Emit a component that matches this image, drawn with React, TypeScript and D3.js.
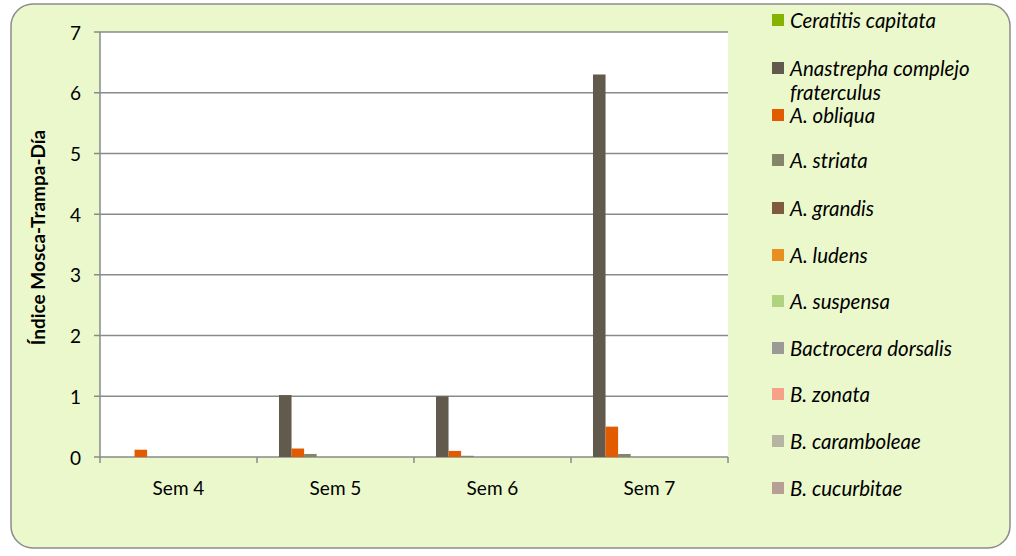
import React from "react";
import * as d3 from "d3";

const categories = ["Sem 4", "Sem 5", "Sem 6", "Sem 7"];
const seriesNames = [
  "Ceratitis capitata",
  "Anastrepha complejo fraterculus",
  "A. obliqua",
  "A. striata",
  "A. grandis",
  "A. ludens",
  "A. suspensa",
  "Bactrocera dorsalis",
  "B. zonata",
  "B. caramboleae",
  "B. cucurbitae",
];
const seriesColors = [
  "#86b200",
  "#635a4e",
  "#e35b00",
  "#85856a",
  "#7f5a3c",
  "#e8901f",
  "#b1d37f",
  "#9c9a97",
  "#f8a18a",
  "#b5b5a2",
  "#b89f96",
];
// values per series, one per week
const ceratitis = [0, 0, 0, 0];
const fraterculus = [0, 1.02, 1.0, 6.3];
const obliqua = [0.12, 0.14, 0.1, 0.5];
const striata = [0, 0.05, 0.02, 0.05];
const grandis = [0, 0, 0, 0];
const ludens = [0, 0, 0, 0];
const suspensa = [0, 0, 0, 0];
const dorsalis = [0, 0, 0, 0];
const zonata = [0, 0, 0, 0];
const caramboleae = [0, 0, 0, 0];
const cucurbitae = [0, 0, 0, 0];
const seriesValues = [
  ceratitis, fraterculus, obliqua, striata, grandis, ludens,
  suspensa, dorsalis, zonata, caramboleae, cucurbitae,
];
const yTicks = [0, 1, 2, 3, 4, 5, 6, 7];

const App = () => {
  const W = 1016;
  const H = 556;
  const plot = { left: 100, right: 728, top: 32, bottom: 457 };
  const font = "Lato, 'Open Sans', sans-serif";

  const x = d3
    .scaleBand<string>()
    .domain(categories)
    .range([plot.left, plot.right])
    .padding(0);
  const xInner = d3
    .scaleBand<number>()
    .domain(d3.range(seriesNames.length))
    .range([0, x.bandwidth()])
    .paddingInner(0)
    .paddingOuter(0.75);
  const y = d3.scaleLinear().domain([0, 7]).range([plot.bottom, plot.top]);

  const legendY = [20, 68, 115, 160, 208, 255, 301, 348, 394, 441, 488];
  const gridColor = "#8a8a8a";

  return (
    <svg
      width={W}
      height={H}
      style={{ position: "absolute", left: 0, top: 0 }}
    >
      <rect x={0} y={0} width={W} height={H} fill="#ffffff" />
      <rect
        x={11}
        y={4}
        width={999}
        height={544}
        rx={22}
        ry={22}
        fill="#ebf8cc"
        stroke="#8c8c8c"
        strokeWidth={1.5}
      />
      <rect
        x={plot.left}
        y={plot.top}
        width={plot.right - plot.left}
        height={plot.bottom - plot.top}
        fill="#ffffff"
      />
      {yTicks.map((t) => (
        <g key={t}>
          <line
            x1={plot.left - 6}
            x2={plot.right}
            y1={y(t)}
            y2={y(t)}
            stroke={gridColor}
            strokeWidth={1.5}
          />
          <text
            x={81}
            y={y(t)}
            textAnchor="end"
            dominantBaseline="central"
            fontFamily={font}
            fontSize={19}
            fill="#000"
          >
            {t}
          </text>
        </g>
      ))}
      <line
        x1={plot.left}
        x2={plot.left}
        y1={plot.top}
        y2={plot.bottom}
        stroke={gridColor}
        strokeWidth={1.5}
      />
      {[...categories.map((c) => x(c) as number), plot.right].map((px, i) => (
        <line
          key={i}
          x1={px}
          x2={px}
          y1={plot.bottom}
          y2={plot.bottom + 6}
          stroke={gridColor}
          strokeWidth={1.5}
        />
      ))}
      {seriesValues.map((vals, si) =>
        vals.map((v, ci) =>
          v > 0 ? (
            <rect
              key={`${si}-${ci}`}
              x={(x(categories[ci]) as number) + (xInner(si) as number)}
              y={y(v)}
              width={xInner.bandwidth()}
              height={y(0) - y(v)}
              fill={seriesColors[si]}
            />
          ) : null
        )
      )}
      {categories.map((c) => (
        <text
          key={c}
          x={(x(c) as number) + x.bandwidth() / 2}
          y={487}
          textAnchor="middle"
          dominantBaseline="central"
          fontFamily={font}
          fontSize={19}
          fill="#000"
        >
          {c}
        </text>
      ))}
      <text
        transform={`translate(37, ${(plot.top + plot.bottom) / 2 - 7}) rotate(-90)`}
        textAnchor="middle"
        dominantBaseline="central"
        fontFamily={font}
        fontSize={19}
        fontWeight="bold"
        fill="#000"
      >
        Índice Mosca-Trampa-Día
      </text>
      {seriesNames.map((name, i) => (
        <g key={name}>
          <rect
            x={772}
            y={legendY[i] - 6}
            width={12}
            height={12}
            fill={seriesColors[i]}
          />
          {i === 1 ? (
            <text
              x={790}
              y={legendY[i]}
              dominantBaseline="central"
              fontFamily={font}
              fontSize={20.5}
              fontStyle="italic"
              fill="#000"
            >
              <tspan x={790}>Anastrepha complejo</tspan>
              <tspan x={790} dy={24}>
                fraterculus
              </tspan>
            </text>
          ) : (
            <text
              x={790}
              y={legendY[i]}
              dominantBaseline="central"
              fontFamily={font}
              fontSize={20.5}
              fontStyle="italic"
              fill="#000"
            >
              {name}
            </text>
          )}
        </g>
      ))}
    </svg>
  );
};

export default App;
